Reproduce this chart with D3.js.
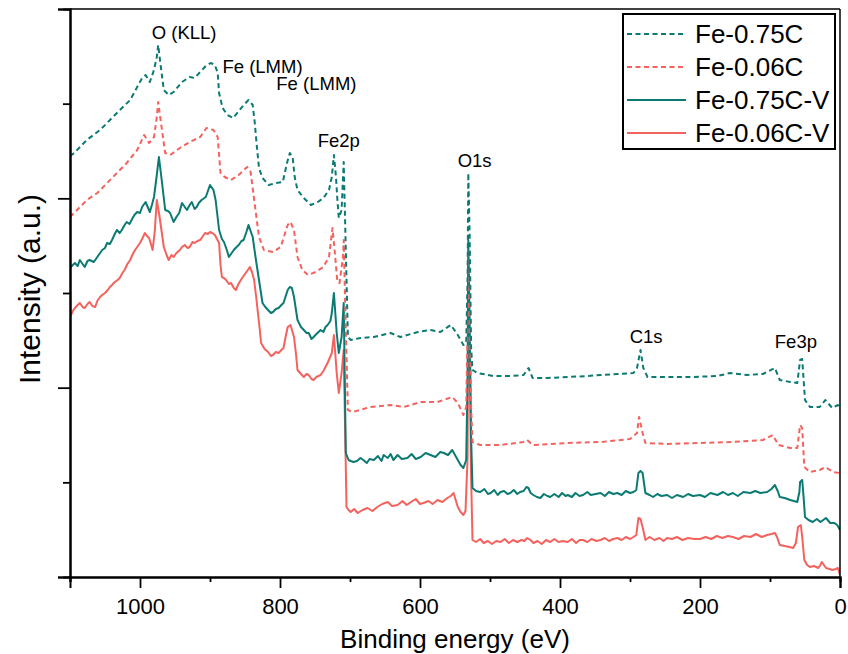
<!DOCTYPE html>
<html>
<head>
<meta charset="utf-8">
<script src="https://cdn.jsdelivr.net/npm/d3@7/dist/d3.min.js"></script>
<style>
  body { margin: 0; background: #fff; }
  text { font-family: "Liberation Sans", Arial, sans-serif; fill: #000; }
</style>
</head>
<body>
<script>
// binding energy (eV), intensity (a.u.)
var fe075C = [
  [1100,421],[1094,424],[1076,437],[1057,447],[1033,464],[1014,477],[997,499],[992,502],[986,495],[980,507],
  [976,520],[974,532],[972,520],[966,487],[959,482],[952,485],[940,495],[929,500],[922,499],[914,505],
  [906,511],[899,514],[893,512],[889,504],[887,484],[882,469],[875,462],[867,459],[860,465],[852,472],
  [845,477],[839,472],[836,454],[833,430],[830,409],[825,399],[816,392],[806,394],[796,395],[790,414],
  [786,424],[782,420],[779,400],[775,387],[766,379],[756,372],[746,375],[738,379],[730,387],[726,400],
  [723,422],[720,400],[718,377],[716,359],[712,367],[709,415],[706,327],[703,240],[699,237],[685,239],
  [666,240],[642,244],[628,240],[603,245],[585,247],[571,245],[556,252],[546,242],[538,232],[534,234],
  [532,300],[531,404],[529,340],[527,230],[525,207],[518,204],[495,201],[471,201],[452,202],[445,209],
  [439,199],[418,199],[389,200],[361,201],[342,202],[318,203],[295,204],[290,209],[285,227],[281,209],
  [275,200],[247,200],[210,200],[175,201],[157,204],[133,202],[110,203],[93,209],[86,197],[71,195],
  [61,194],[57,217],[54,218],[50,177],[43,170],[29,170],[21,177],[11,169],[3,172],[0,167]
];
var fe006C = [
  [1100,360],[1090,367],[1076,377],[1061,384],[1047,394],[1033,404],[1019,414],[1004,427],[994,442],[987,434],
  [980,440],[976,460],[974,475],[970,454],[964,424],[957,422],[943,429],[929,435],[914,440],[905,449],
  [895,447],[889,440],[885,404],[879,400],[870,397],[859,402],[847,410],[842,405],[835,367],[830,340],
  [823,327],[810,325],[799,330],[789,352],[785,355],[780,347],[775,320],[768,307],[760,302],[749,305],
  [738,310],[730,320],[725,349],[722,327],[718,295],[715,294],[710,320],[709,337],[706,247],[703,167],
  [696,165],[671,170],[642,172],[623,170],[599,175],[575,175],[554,180],[546,174],[538,162],[534,170],
  [532,250],[531,327],[529,280],[527,170],[525,135],[514,132],[485,132],[452,135],[447,137],[439,132],
  [389,134],[342,135],[300,138],[290,144],[287,160],[282,144],[278,134],[247,133],[200,134],[153,135],
  [110,137],[96,142],[88,132],[71,129],[61,129],[57,152],[54,149],[51,110],[43,105],[29,107],
  [21,110],[10,105],[0,104]
];
var fe075CV = [
  [1100,309],[1096,312],[1093,314],[1089,311],[1086,317],[1082,313],[1079,310],[1075,316],[1072,317],[1066,315],
  [1061,320],[1057,324],[1054,327],[1050,329],[1047,334],[1043,333],[1040,337],[1036,343],[1033,347],[1029,344],
  [1026,347],[1022,352],[1019,355],[1015,353],[1012,357],[1008,362],[1004,365],[1000,364],[997,370],[994,373],
  [992,375],[989,370],[986,365],[983,372],[980,380],[976,402],[973,420],[969,397],[964,367],[960,366],
  [957,364],[952,355],[948,360],[944,364],[940,374],[936,370],[933,367],[929,372],[926,375],[922,368],
  [919,370],[916,374],[912,377],[906,380],[900,392],[895,387],[892,377],[887,347],[883,338],[880,335],
  [876,327],[873,320],[869,324],[866,327],[862,330],[859,332],[855,336],[852,337],[848,345],[845,352],
  [842,346],[839,340],[835,320],[830,297],[825,274],[821,270],[817,267],[813,264],[810,265],[806,268],
  [802,269],[798,272],[795,274],[789,287],[786,290],[783,289],[780,280],[775,257],[770,250],[766,247],
  [762,244],[759,244],[755,238],[752,240],[748,243],[742,247],[738,245],[735,250],[732,252],[728,256],
  [726,264],[723,284],[719,244],[716,224],[712,240],[709,274],[706,124],[702,117],[699,116],[695,115],
  [690,116],[685,119],[681,117],[676,114],[672,118],[666,117],[660,121],[655,116],[652,122],[646,119],
  [642,123],[638,117],[632,122],[626,118],[618,119],[612,123],[606,118],[599,120],[592,124],[585,122],
  [578,120],[571,125],[566,124],[560,122],[554,127],[550,122],[546,117],[542,112],[538,109],[534,117],
  [532,200],[531,337],[529,250],[527,140],[525,89],[520,86],[514,85],[508,88],[503,83],[499,84],
  [494,87],[489,82],[485,85],[480,86],[475,83],[471,84],[466,87],[461,83],[457,85],[452,86],
  [448,90],[445,89],[442,84],[438,82],[433,80],[428,79],[423,83],[418,81],[414,80],[408,83],
  [402,80],[397,84],[392,81],[389,82],[383,80],[378,84],[372,81],[367,82],[361,85],[356,82],
  [349,83],[342,84],[336,81],[330,85],[324,83],[318,84],[312,82],[306,86],[300,84],[295,85],
  [291,87],[288,104],[285,106],[282,104],[278,84],[272,82],[267,80],[261,83],[255,81],[247,82],
  [240,79],[233,82],[224,80],[217,83],[210,81],[200,82],[193,80],[185,84],[175,82],[167,85],
  [160,82],[153,84],[146,81],[138,85],[128,84],[121,86],[114,84],[104,85],[98,88],[93,92],
  [89,86],[86,80],[79,79],[71,77],[66,76],[61,75],[58,85],[57,95],[54,97],[52,80],
  [50,60],[45,57],[39,55],[33,58],[28,55],[24,57],[20,59],[14,54],[8,54],[4,52],[0,47]
];
var fe006CV = [
  [1100,260],[1096,266],[1093,269],[1089,272],[1086,274],[1082,270],[1079,269],[1075,273],[1072,275],[1068,271],
  [1064,270],[1061,276],[1057,280],[1054,282],[1050,284],[1046,287],[1043,290],[1040,292],[1036,295],[1032,297],
  [1029,299],[1025,304],[1022,307],[1018,313],[1014,317],[1011,322],[1007,327],[1004,330],[1000,334],[997,338],
  [993,344],[990,341],[987,339],[984,332],[982,327],[979,345],[976,377],[972,360],[969,345],[966,330],
  [962,322],[959,317],[955,322],[952,320],[948,324],[943,327],[940,330],[936,332],[932,329],[929,330],
  [925,335],[922,334],[918,336],[914,337],[910,341],[907,344],[903,343],[900,345],[897,344],[893,342],
  [890,338],[887,334],[885,312],[883,300],[880,299],[877,297],[873,293],[870,294],[866,289],[863,287],
  [860,292],[856,297],[852,301],[849,304],[846,307],[843,310],[840,305],[837,297],[834,280],[832,267],
  [829,248],[827,234],[822,228],[817,225],[813,221],[810,222],[806,225],[802,224],[798,227],[795,229],
  [792,240],[789,250],[785,252],[780,240],[777,222],[775,207],[770,203],[766,200],[762,203],[759,202],
  [755,198],[752,197],[748,200],[742,202],[738,206],[735,210],[732,214],[729,219],[726,224],[723,242],
  [719,204],[716,184],[712,204],[709,227],[705,70],[702,67],[699,65],[694,68],[689,64],[682,67],
  [675,69],[668,66],[661,70],[654,73],[646,75],[640,71],[632,72],[625,76],[619,72],[613,75],
  [606,78],[600,73],[595,74],[588,76],[582,73],[575,77],[568,75],[561,79],[556,81],[552,84],
  [549,77],[546,70],[542,65],[538,62],[535,66],[532,120],[531,312],[529,220],[527,100],[525,37],
  [520,35],[514,38],[509,34],[503,36],[497,33],[491,36],[485,35],[479,38],[473,34],[467,37],
  [461,35],[455,37],[451,36],[447,39],[442,37],[438,34],[432,36],[426,33],[420,37],[414,35],
  [408,38],[402,35],[396,36],[389,35],[383,38],[377,34],[372,37],[367,37],[361,35],[355,38],
  [348,36],[342,37],[336,39],[330,36],[324,38],[318,39],[312,37],[306,40],[300,38],[295,40],
  [291,42],[288,59],[285,58],[282,50],[278,37],[272,40],[265,37],[258,39],[252,36],[247,39],
  [240,38],[233,40],[225,37],[217,39],[208,38],[200,38],[192,40],[184,38],[176,41],[168,39],
  [160,41],[153,40],[145,38],[137,41],[128,40],[120,43],[112,40],[104,42],[98,43],[93,44],
  [90,40],[86,32],[79,31],[72,30],[67,29],[63,34],[60,50],[56,52],[54,40],[51,17],
  [47,12],[43,10],[37,11],[31,9],[28,12],[26,15],[23,12],[20,9],[15,8],[11,7],[6,8],[3,9],[0,2]
];

var seriesNames = ["Fe-0.75C", "Fe-0.06C", "Fe-0.75C-V", "Fe-0.06C-V"];
var seriesData = [fe075C, fe006C, fe075CV, fe006CV];

var xMajorTicks = [1000, 800, 600, 400, 200, 0];
var xMinorTicks = [1100, 900, 700, 500, 300, 100];

// peak labels: text, energy (centre of label), intensity (baseline)
var peakLabels = [
  ["O (KLL)", 937, 538],
  ["Fe (LMM)", 825, 504],
  ["Fe (LMM)", 748, 487],
  ["Fe2p", 716, 430],
  ["O1s", 522, 410],
  ["C1s", 277, 234],
  ["Fe3p", 63, 229]
];

var w = 848, h = 654;
var margin = {top: 9, right: 8, bottom: 77, left: 70};
var innerW = w - margin.left - margin.right;
var innerH = h - margin.top - margin.bottom;
var yMax = 568;

var teal = "#0b7a73", red = "#f4625e";
var styles = [
  {color: teal, dash: "5,3.5"},
  {color: red, dash: "5,3.5"},
  {color: teal, dash: null},
  {color: red, dash: null}
];

var svg = d3.select("body").append("svg").attr("width", w).attr("height", h);
var g = svg.append("g").attr("transform", "translate(" + margin.left + "," + margin.top + ")");

var xScale = d3.scaleLinear().domain([1100, 0]).range([0, innerW]);
var yScale = d3.scaleLinear().domain([0, yMax]).range([innerH, 0]);

g.append("clipPath").attr("id", "clip")
  .append("rect").attr("width", innerW).attr("height", innerH);

var line = d3.line()
  .x(function (d) { return xScale(d[0]); })
  .y(function (d) { return yScale(d[1]); });

// draw bottom-most first so the dashed traces sit on top
[3, 2, 1, 0].forEach(function (i) {
  g.append("path")
    .datum(seriesData[i])
    .attr("clip-path", "url(#clip)")
    .attr("fill", "none")
    .attr("stroke", styles[i].color)
    .attr("stroke-width", 2)
    .attr("stroke-linejoin", "round")
    .attr("stroke-dasharray", styles[i].dash)
    .attr("d", line);
});

// frame
g.append("line").attr("x1", 0).attr("x2", innerW).attr("y1", 0).attr("y2", 0)
  .attr("stroke", "#000").attr("stroke-width", 1.5);
g.append("line").attr("x1", innerW).attr("x2", innerW).attr("y1", 0).attr("y2", innerH)
  .attr("stroke", "#000").attr("stroke-width", 1.5);

// x axis
var xMajor = d3.axisBottom(xScale).tickValues(xMajorTicks).tickSize(11).tickPadding(10)
  .tickFormat(d3.format("d"));
var xMinor = d3.axisBottom(xScale).tickValues(xMinorTicks).tickSize(5).tickFormat("");
var gx = g.append("g").attr("transform", "translate(0," + innerH + ")");
gx.call(xMinor);
gx.append("g").call(xMajor);
gx.selectAll("text").style("font-size", "22px").attr("fill", "#000");

// y axis, no labels
var yStep = yMax / 6;
var yMajor = d3.axisLeft(yScale).tickValues([0, 2, 4, 6].map(function (k) { return k * yStep; }))
  .tickSize(12).tickFormat("");
var yMinor = d3.axisLeft(yScale).tickValues([1, 3, 5].map(function (k) { return k * yStep; }))
  .tickSize(7).tickFormat("");
var gy = g.append("g");
gy.call(yMinor);
gy.append("g").call(yMajor);

svg.selectAll(".domain").attr("stroke", "#000").attr("stroke-width", 2);
svg.selectAll(".tick line").attr("stroke", "#000").attr("stroke-width", 1.8);

// axis titles
svg.append("text")
  .attr("x", margin.left + innerW / 2).attr("y", 648)
  .attr("text-anchor", "middle").style("font-size", "26px")
  .text("Binding energy (eV)");
svg.append("text")
  .attr("transform", "translate(40,289) rotate(-90)")
  .attr("text-anchor", "middle").style("font-size", "30px")
  .text("Intensity (a.u.)");

// peak labels
g.selectAll(".peak").data(peakLabels).enter().append("text")
  .attr("class", "peak")
  .attr("x", function (d) { return xScale(d[1]); })
  .attr("y", function (d) { return yScale(d[2]); })
  .attr("text-anchor", "middle").style("font-size", "18.5px")
  .text(function (d) { return d[0]; });

// legend
var lg = svg.append("g");
lg.append("rect").attr("x", 623).attr("y", 14).attr("width", 212).attr("height", 135)
  .attr("fill", "#fff").attr("stroke", "#000").attr("stroke-width", 2);
seriesNames.forEach(function (name, i) {
  var yy = 34 + i * 33;
  lg.append("line").attr("x1", 627).attr("x2", 686).attr("y1", yy).attr("y2", yy)
    .attr("stroke", styles[i].color).attr("stroke-width", 2)
    .attr("stroke-dasharray", styles[i].dash);
  lg.append("text").attr("x", 695).attr("y", yy).attr("dy", "0.36em")
    .style("font-size", "26px").text(name);
});
</script>
</body>
</html>
